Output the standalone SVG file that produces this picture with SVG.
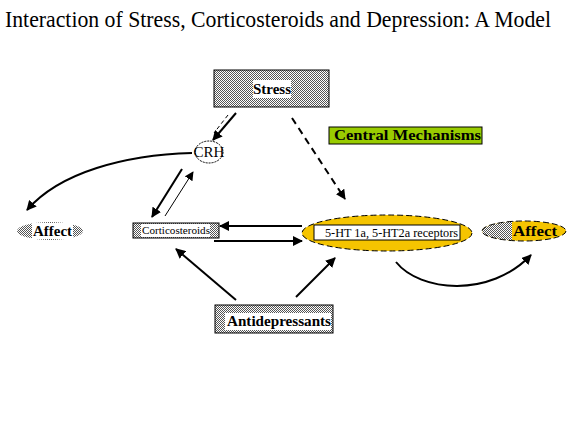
<svg xmlns="http://www.w3.org/2000/svg" width="575" height="446" viewBox="0 0 575 446">
<style>
.t{font-family:'Liberation Serif','DejaVu Serif',serif;fill:#000}
.b{font-weight:bold}
.c{fill:none;stroke:#000;stroke-width:2}
.h{fill:url(#hatch)}
</style>
<defs>
<pattern id="hatch" width="2" height="2" patternUnits="userSpaceOnUse">
<rect width="2" height="2" fill="#fff"/>
<rect width="1" height="1" fill="#555"/>
<rect x="1" y="1" width="1" height="1" fill="#555"/>
</pattern>
<marker id="ah" viewBox="0 0 10 10" refX="9" refY="5" markerWidth="5" markerHeight="5" orient="auto" markerUnits="strokeWidth">
<path d="M0,0 L10,5 L0,10 z" fill="#000"/>
</marker>
<marker id="ahs" viewBox="0 0 10 10" refX="9" refY="5" markerWidth="9" markerHeight="9" orient="auto" markerUnits="strokeWidth">
<path d="M0,0 L10,5 L0,10 z" fill="#000"/>
</marker>
</defs>
<rect width="575" height="446" fill="#fff"/>
<text class="t" transform="translate(5,27) scale(1,1.2)" x="0" y="0" font-size="20" textLength="546" lengthAdjust="spacingAndGlyphs">Interaction of Stress, Corticosteroids and Depression:  A Model</text>

<g id="stress">
<rect class="h" x="214" y="70" width="115" height="37" stroke="#000" stroke-width="1"/>
<rect x="253" y="80" width="38" height="18" fill="#fff"/>
<text class="t b" x="253" y="94" font-size="14" textLength="38" lengthAdjust="spacingAndGlyphs">Stress</text>
</g>

<g id="crh">
<ellipse cx="209" cy="152" rx="14" ry="11" fill="#fff" stroke="#000" stroke-width="1" stroke-dasharray="2,1"/>
<text class="t" x="209" y="157" font-size="15" text-anchor="middle">CRH</text>
</g>

<g id="central">
<rect x="329" y="127" width="153" height="17" fill="#99cc00" stroke="#000" stroke-width="1"/>
<text class="t b" x="334" y="140" font-size="14" textLength="147" lengthAdjust="spacingAndGlyphs">Central Mechanisms</text>
</g>

<g id="affect-left">
<ellipse class="h" cx="50" cy="231" rx="33" ry="9"/>
<rect x="32" y="223" width="41" height="16" fill="#fff"/>
<text class="t b" x="33" y="236" font-size="14" textLength="39" lengthAdjust="spacingAndGlyphs">Affect</text>
</g>

<g id="corticosteroids">
<rect class="h" x="133" y="223" width="86" height="15" stroke="#000" stroke-width="1"/>
<rect x="141" y="224" width="69" height="13" fill="#fff"/>
<text class="t" x="142" y="234" font-size="11" textLength="68" lengthAdjust="spacingAndGlyphs">Corticosteroids</text>
</g>

<g id="receptors">
<ellipse cx="387" cy="233" rx="85" ry="18" fill="#f5c400" stroke="#000" stroke-width="1" stroke-dasharray="6,3"/>
<rect x="314" y="225" width="146" height="15" fill="#fff" stroke="#000" stroke-width="1"/>
<text class="t" x="325" y="237" font-size="12" textLength="133" lengthAdjust="spacingAndGlyphs">5-HT 1a, 5-HT2a receptors</text>
</g>

<g id="affect-right">
<ellipse cx="524" cy="231" rx="42" ry="10" fill="#f5c400"/>
<path d="M524,221 A42,10 0 0 0 524,241 L512,241 L512,221 z" class="h"/>
<ellipse cx="524" cy="231" rx="42" ry="10" fill="none" stroke="#000" stroke-width="1" stroke-dasharray="6,3"/>
<text class="t b" x="513" y="236" font-size="14" textLength="44" lengthAdjust="spacingAndGlyphs">Affect</text>
</g>

<g id="antidepressants">
<rect class="h" x="215" y="305" width="118" height="28" stroke="#000" stroke-width="1"/>
<rect x="225" y="313" width="106" height="17" fill="#fff"/>
<text class="t b" x="227" y="326" font-size="14" textLength="104" lengthAdjust="spacingAndGlyphs">Antidepressants</text>
</g>

<g id="connectors">
<line class="c" x1="236" y1="113" x2="213" y2="140" marker-end="url(#ah)"/>
<line x1="228" y1="115" x2="214" y2="133" stroke="#000" stroke-width="1" stroke-dasharray="4,3"/>
<line class="c" x1="292" y1="118" x2="345" y2="199" stroke-dasharray="7,5" marker-end="url(#ah)"/>
<path class="c" d="M192,153 C125,155 60,172 27,210" marker-end="url(#ah)"/>
<line class="c" x1="182" y1="169" x2="152" y2="217" marker-end="url(#ah)"/>
<line x1="165" y1="216" x2="193" y2="172" stroke="#000" stroke-width="1" marker-end="url(#ahs)"/>
<line class="c" x1="302" y1="226" x2="220" y2="226" marker-end="url(#ah)"/>
<line class="c" x1="214" y1="241" x2="302" y2="241" marker-end="url(#ah)"/>
<line class="c" x1="236" y1="300" x2="176" y2="249" marker-end="url(#ah)"/>
<line class="c" x1="296" y1="297" x2="335" y2="258" marker-end="url(#ah)"/>
<path class="c" d="M396,262 C420,292 490,298 531,255" marker-end="url(#ah)"/>
</g>
</svg>
